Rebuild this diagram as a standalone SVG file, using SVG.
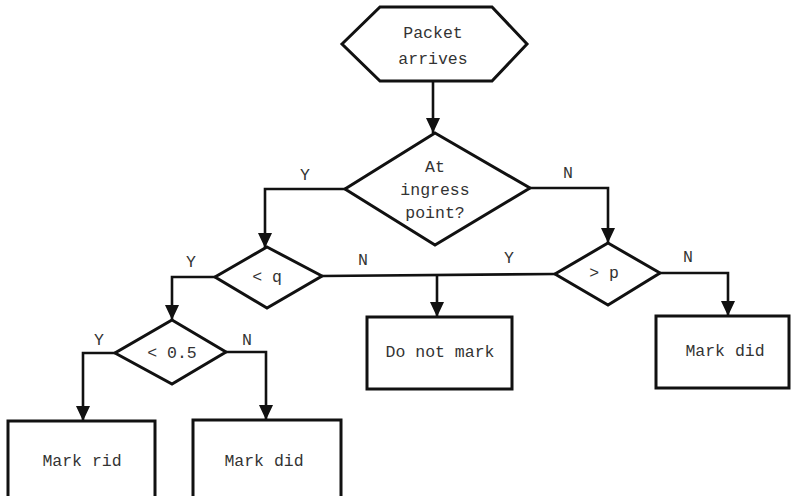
<svg xmlns="http://www.w3.org/2000/svg" width="791" height="496" viewBox="0 0 791 496">
<defs>
<marker id="arr" markerUnits="userSpaceOnUse" markerWidth="16" markerHeight="14" refX="15" refY="7" orient="auto" viewBox="0 0 16 14">
<path d="M0,0 L15,7 L0,14 Z" fill="#111"/>
</marker>
<style>
.s{fill:#fff;stroke:#111;stroke-width:3;stroke-linejoin:miter}
.c{fill:none;stroke:#111;stroke-width:2.6}
.a{marker-end:url(#arr)}
text{font-family:"Liberation Mono","Courier New",monospace;font-size:16.5px;fill:#333;text-anchor:middle}
</style>
</defs>
<rect width="791" height="496" fill="#fff"/>
<g id="connectors">
<line class="c a" x1="433" y1="81" x2="433" y2="133"/>
<polyline class="c a" points="345,189 265,189 265,248"/>
<polyline class="c a" points="530,188 608,188 608,243"/>
<polyline class="c a" points="215,277 172,277 172,320"/>
<line class="c" x1="322" y1="276" x2="555" y2="274"/>
<line class="c a" x1="437" y1="275" x2="437" y2="317"/>
<polyline class="c a" points="660,273 728,273 728,316"/>
<polyline class="c a" points="115,353 83,353 83,421"/>
<polyline class="c a" points="226,352 266,352 266,420"/>
<text x="305" y="180">Y</text>
<text x="568" y="178">N</text>
<text x="191" y="267">Y</text>
<text x="363" y="265">N</text>
<text x="509" y="263">Y</text>
<text x="688" y="262">N</text>
<text x="99" y="345">Y</text>
<text x="247" y="345">N</text>
</g>
<g id="start">
<polygon class="s" points="342,44 380,7 492,7 527,44 492,81 380,81"/>
<text x="433" y="38">Packet</text>
<text x="433" y="64">arrives</text>
</g>
<g id="ingress">
<polygon class="s" points="435,133 530,188 435,245 345,189"/>
<text x="435" y="172">At</text>
<text x="435" y="195">ingress</text>
<text x="435" y="218">point?</text>
</g>
<g id="ltq">
<polygon class="s" points="267,247 322,276 267,308 215,277"/>
<text x="267" y="282">&lt; q</text>
</g>
<g id="gtp">
<polygon class="s" points="608,243 660,273 608,305 555,274"/>
<text x="604" y="278">&gt; p</text>
</g>
<g id="lthalf">
<polygon class="s" points="172,320 226,352 172,384 115,353"/>
<text x="172" y="358">&lt; 0.5</text>
</g>
<g id="donotmark">
<rect class="s" x="367" y="317" width="145" height="72"/>
<text x="440" y="357">Do not mark</text>
</g>
<g id="markdid-right">
<rect class="s" x="656" y="316" width="133" height="72"/>
<text x="725" y="356">Mark did</text>
</g>
<g id="markrid">
<rect class="s" x="8" y="421" width="147" height="80"/>
<text x="82" y="466">Mark rid</text>
</g>
<g id="markdid-bottom">
<rect class="s" x="193" y="420" width="148" height="81"/>
<text x="264" y="466">Mark did</text>
</g>
</svg>
